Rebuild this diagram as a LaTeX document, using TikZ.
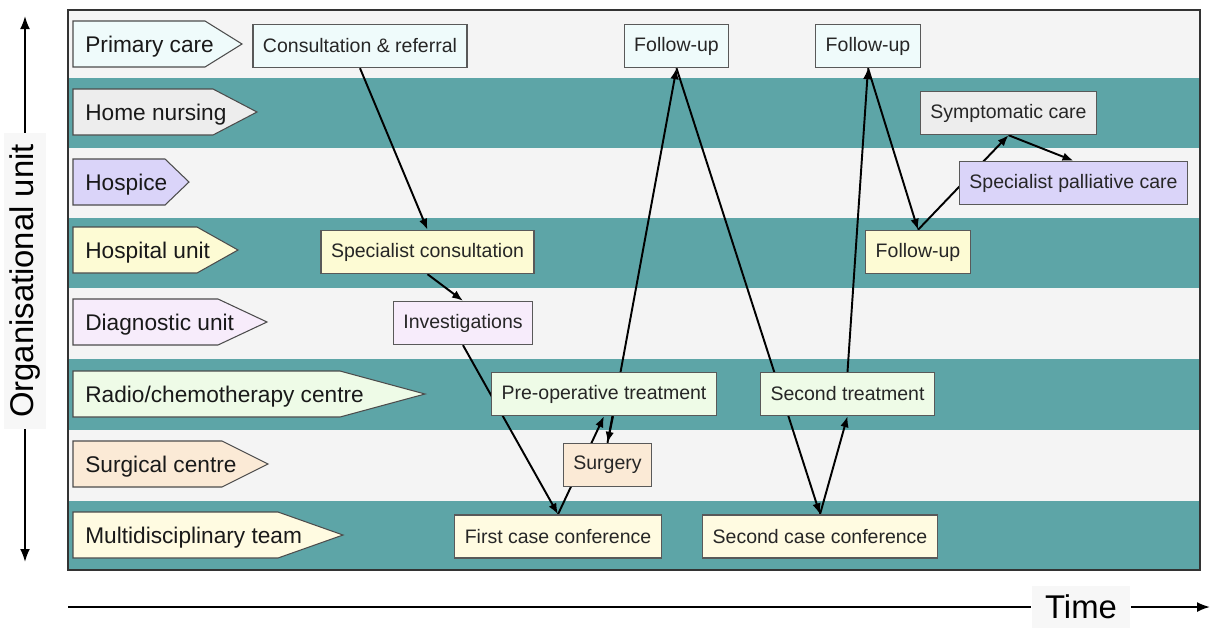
\documentclass[tikz,border=0pt]{standalone}
\usepackage{fontspec}
\setmainfont{Liberation Sans}
\usetikzlibrary{arrows.meta,positioning}
\definecolor{band}{HTML}{5DA5A7}
\definecolor{pale}{HTML}{F4F4F4}
\definecolor{primary}{HTML}{EFFBFB}
\definecolor{homecare}{HTML}{EDEDED}
\definecolor{hospice}{HTML}{DAD4F9}
\definecolor{hospital}{HTML}{FDFBD4}
\definecolor{diagnostic}{HTML}{F7ECFB}
\definecolor{radio}{HTML}{EEFBE7}
\definecolor{surgical}{HTML}{FBEAD6}
\definecolor{mdt}{HTML}{FFFBE1}
\pgfdeclarelayer{lanes}
\pgfdeclarelayer{links}
\pgfsetlayers{lanes,links,main}

\begin{document}
\begin{tikzpicture}[x=0.02cm,y=-0.02cm,
  unit/.style={draw=black!70,line width=0.6pt},
  unitlabel/.style={anchor=west,inner sep=0pt,yshift=-0.05cm,font=\fontsize{12.9}{15}\selectfont,text=black!90},
  event/.style={draw=black!65,line width=0.8pt,minimum height=0.86cm,inner xsep=0.2cm,yshift=-0.02cm,font=\fontsize{11.1}{13}\selectfont,text=black!85},
  link/.style={line width=1.1pt,-{Latex[length=0.22cm,width=0.17cm]}},
  axis/.style={line width=1.1pt,-{Latex[length=0.26cm,width=0.2cm]}},
  axislabel/.style={font=\fontsize{18.7}{22}\selectfont,fill=black!3},
]
  \useasboundingbox (0,0) rectangle (1212,627);

  % swim lanes
  \begin{pgfonlayer}{lanes}
    \foreach \ya/\yb/\col in {10/78/pale,78/148/band,148/218/pale,218/288/band,
                              288/359/pale,359/430/band,430/501/pale,501/570/band}
      \fill[\col] (68,\ya) rectangle (1200,\yb);
    \draw[line width=1.2pt,black!80] (68,10) rectangle (1200,570);
  \end{pgfonlayer}

  % organisational units
  \foreach \y/\re/\tp/\col/\txt [count=\i] in {44/205/242/primary/{Primary care},
      112/213/257/homecare/{Home nursing}, 182/165/189/hospice/{Hospice},
      250/197/238/hospital/{Hospital unit}, 322/218/267/diagnostic/{Diagnostic unit},
      394/340/425/radio/{Radio/chemotherapy centre}, 464/222/268/surgical/{Surgical centre},
      535/278/343/mdt/{Multidisciplinary team}}{
    \draw[unit,fill=\col] (73,\y-23) -- (\re,\y-23) -- (\tp,\y) -- (\re,\y+23) -- (73,\y+23) -- cycle;
    \node[unitlabel] (unit\i) at (85,\y) {\txt};
  }

  % events
  \node[event,fill=primary] (cons) at (360,45) {Consultation \& referral};
  \node[event,fill=primary] (fuA) at (676.5,45) {Follow-up};
  \node[event,fill=primary] (fuB) at (868,45) {Follow-up};
  \node[event,fill=homecare] (symp) at (1008.5,112) {Symptomatic care};
  \node[event,fill=hospice] (palli) at (1073.5,182) {Specialist palliative care};
  \node[event,fill=hospital] (spec) at (427.5,251) {Specialist consultation};
  \node[event,fill=hospital] (fuC) at (918,251) {Follow-up};
  \node[event,fill=diagnostic] (invest) at (463,322) {Investigations};
  \node[event,fill=radio] (preop) at (604,393) {Pre-operative treatment};
  \node[event,fill=radio] (second) at (847.5,393) {Second treatment};
  \node[event,fill=surgical] (surg) at (607.5,464) {Surgery};
  \node[event,fill=mdt] (confA) at (558,535.5) {First case conference};
  \node[event,fill=mdt] (confB) at (820,535.5) {Second case conference};

  \begin{pgfonlayer}{links}
    \draw[link] (cons.south) -- (spec.north);
    \draw[link] (spec.south) -- (invest.north);
    \draw[link] (invest.south) -- (confA.north);
    \draw[link] (confA.north) -- (preop.south);
    \draw[link] ([xshift=0.18cm]preop.south) -- (surg.north);
    \draw[link] (surg.north) -- (fuA.south);
    \draw[link] (fuA.south) -- (confB.north);
    \draw[link] (confB.north) -- (second.south);
    \draw[link] (second.north) -- (fuB.south);
    \draw[link] (fuB.south) -- (fuC.north);
    \draw[link] (fuC.north) -- (symp.south);
    \draw[link] (symp.south) -- (palli.north);
  \end{pgfonlayer}

  % axes
  \node[axislabel,rotate=90,inner xsep=0.22cm] (orgunit) at (25,281) {Organisational unit};
  \coordinate (orgtop) at (25,16);
  \coordinate (orgbot) at (25,562);
  \draw[axis] (orgunit.east) -- (orgtop);
  \draw[axis] (orgunit.west) -- (orgbot);

  \node[axislabel,inner xsep=0.27cm,minimum height=0.84cm] (time) at (1081,607) {Time};
  \coordinate (tstart) at (68,607);
  \coordinate (tend) at (1210,607);
  \draw[line width=1.1pt] (tstart) -- (time.west);
  \draw[axis] (time.east) -- (tend);
\end{tikzpicture}
\end{document}
